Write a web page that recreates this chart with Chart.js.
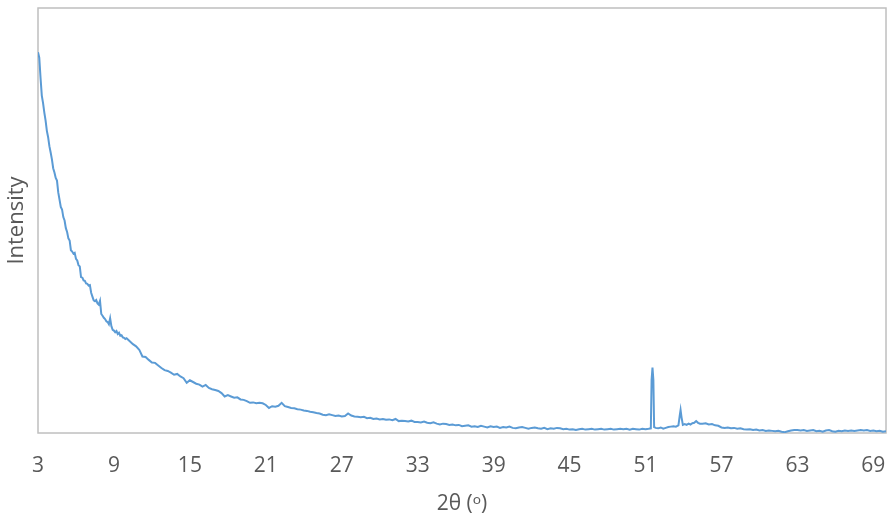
<!DOCTYPE html>
<html>
<head>
<meta charset="utf-8">
<script src="https://cdn.jsdelivr.net/npm/chart.js@4/dist/chart.umd.min.js"></script>
<style>
html,body{margin:0;padding:0;background:#fff;}
#wrap{width:888px;height:520px;position:relative;}
</style>
</head>
<body>
<div id="wrap"><canvas id="c" width="888" height="520"></canvas></div>
<script>
// 2θ angles (degrees)
const angles = [
3.0,3.1,3.2,3.3,3.4,3.5,3.6,3.7,3.8,3.9,
4.0,4.1,4.2,4.3,4.4,4.5,4.6,4.7,4.8,4.9,
5.0,5.1,5.2,5.3,5.4,5.5,5.6,5.7,5.8,5.9,
6.0,6.1,6.2,6.3,6.4,6.5,6.6,6.7,6.8,6.9,
7.0,7.1,7.2,7.3,7.4,7.5,7.6,7.7,7.8,7.9,
8.0,8.1,8.2,8.3,8.4,8.5,8.6,8.7,8.8,8.9,
9.0,9.1,9.2,9.3,9.4,9.5,9.6,9.7,9.8,9.9,
10.0,10.25,10.5,10.75,11.0,11.25,11.5,11.75,12.0,12.25,
12.5,12.75,13.0,13.25,13.5,13.75,14.0,14.25,14.5,14.75,
15.0,15.25,15.5,15.75,16.0,16.25,16.5,16.75,17.0,17.25,
17.5,17.75,18.0,18.25,18.5,18.75,19.0,19.25,19.5,19.75,
20.0,20.25,20.5,20.75,21.0,21.25,21.5,21.75,22.0,22.25,
22.5,22.75,23.0,23.25,23.5,23.75,24.0,24.25,24.5,24.75,
25.0,25.25,25.5,25.75,26.0,26.25,26.5,26.75,27.0,27.25,
27.5,27.75,28.0,28.25,28.5,28.75,29.0,29.25,29.5,29.75,
30.0,30.25,30.5,30.75,31.0,31.25,31.5,31.75,32.0,32.25,
32.5,32.75,33.0,33.25,33.5,33.75,34.0,34.25,34.5,34.75,
35.0,35.25,35.5,35.75,36.0,36.25,36.5,36.75,37.0,37.25,
37.5,37.75,38.0,38.25,38.5,38.75,39.0,39.25,39.5,39.75,
40.0,40.25,40.5,40.75,41.0,41.25,41.5,41.75,42.0,42.25,
42.5,42.75,43.0,43.25,43.5,43.75,44.0,44.25,44.5,44.75,
45.0,45.25,45.5,45.75,46.0,46.25,46.5,46.75,47.0,47.25,
47.5,47.75,48.0,48.25,48.5,48.75,49.0,49.25,49.5,49.75,
50.0,50.25,50.5,50.75,51.0,51.25,51.42,51.48,51.55,51.62,
51.68,51.8,52.0,52.2,52.4,52.6,52.8,53.0,53.2,53.4,
53.6,53.7,53.77,53.84,53.95,54.1,54.25,54.4,54.55,54.7,
54.85,55.0,55.15,55.3,55.5,55.75,56.0,56.25,56.5,56.75,
57.0,57.25,57.5,57.75,58.0,58.25,58.5,58.75,59.0,59.25,
59.5,59.75,60.0,60.25,60.5,60.75,61.0,61.25,61.5,61.75,
62.0,62.25,62.5,62.75,63.0,63.25,63.5,63.75,64.0,64.25,
64.5,64.75,65.0,65.25,65.5,65.75,66.0,66.25,66.5,66.75,
67.0,67.25,67.5,67.75,68.0,68.25,68.5,68.75,69.0,69.25,
69.5,69.75,70.0
];
// Intensity (arbitrary units)
const intensity = [
89.6,88.3,83.6,79.4,77.6,75.4,73.5,71.1,69.6,67.5,
66.0,64.4,62.3,61.3,60.0,59.4,56.6,54.9,53.2,52.6,
50.8,50.0,48.2,47.3,45.8,45.3,43.0,42.7,42.2,42.4,
41.0,40.6,39.5,39.2,36.7,36.6,35.9,35.8,35.2,35.1,
34.7,34.8,33.0,32.1,31.2,31.0,31.3,30.5,30.2,31.1,
28.0,27.6,27.1,26.8,26.3,26.1,25.6,27.0,25.1,24.3,
24.1,23.7,24.0,23.3,23.6,22.9,23.0,22.5,22.4,22.1,
22.3,21.6,20.9,20.4,19.6,18.0,17.9,17.2,16.6,16.5,
15.9,15.3,14.8,14.6,14.2,13.7,13.9,13.3,12.9,11.8,
12.4,12.0,11.6,11.4,10.9,11.3,10.6,10.3,10.1,9.9,
9.4,8.6,8.9,8.6,8.3,8.4,7.9,7.8,7.5,7.1,
7.2,7.0,7.1,7.0,6.6,5.9,6.3,6.2,6.4,7.1,
6.3,6.1,5.9,5.8,5.6,5.5,5.3,5.2,5.0,4.9,
4.7,4.6,4.3,4.2,4.4,4.2,4.0,4.1,3.9,4.0,
4.6,4.1,3.9,3.8,3.7,3.8,3.5,3.6,3.3,3.4,
3.2,3.3,3.1,3.2,3.0,3.3,2.8,2.9,2.8,2.7,
2.9,2.6,2.6,2.5,2.7,2.4,2.3,2.5,2.2,2.0,
2.2,2.1,1.9,2.0,1.8,1.9,1.6,1.7,1.8,1.5,
1.6,1.4,1.7,1.5,1.3,1.6,1.4,1.5,1.2,1.4,
1.3,1.5,1.2,1.1,1.3,1.4,1.2,1.0,1.2,1.3,
1.1,1.0,1.2,0.9,1.1,1.0,1.2,1.1,0.9,1.0,
0.8,0.9,0.7,0.9,1.0,0.8,0.9,1.0,0.8,0.9,
1.0,0.8,0.9,1.0,0.8,0.9,1.0,0.9,1.0,0.8,
1.0,0.9,0.8,1.0,0.9,1.0,1.1,12.5,15.4,12.5,
1.4,1.2,1.1,1.3,1.0,1.2,1.4,1.5,1.6,1.5,
1.8,4.0,5.4,3.8,1.9,2.1,1.9,2.2,2.0,2.3,
2.4,2.8,2.4,2.2,2.2,2.3,2.0,2.1,1.8,1.7,
1.3,1.2,1.3,1.1,1.2,1.0,1.1,0.9,0.8,0.9,
0.7,0.8,0.6,0.7,0.5,0.6,0.5,0.4,0.5,0.3,
0.2,0.4,0.6,0.7,0.7,0.6,0.7,0.5,0.6,0.7,
0.4,0.5,0.3,0.6,0.7,0.4,0.3,0.5,0.4,0.6,
0.5,0.6,0.5,0.6,0.7,0.6,0.7,0.5,0.6,0.4,
0.5,0.3,0.4
];
// x-axis tick labels
const xTickValues = [3, 9, 15, 21, 27, 33, 39, 45, 51, 57, 63, 69];
const xTitle = '2θ (ᵒ)';
const yTitle = 'Intensity';

const points = angles.map((a, i) => ({x: a, y: intensity[i]}));

const frame = {
  id: 'frame',
  beforeDatasetsDraw(chart) {
    const {ctx, chartArea: a} = chart;
    ctx.save();
    ctx.strokeStyle = '#BFBFBF';
    ctx.lineWidth = 1.5;
    ctx.strokeRect(a.left, a.top, a.right - a.left, a.bottom - a.top);
    ctx.restore();
  }
};

const FONT = "'Open Sans', 'Noto Sans', sans-serif";

new Chart(document.getElementById('c'), {
  type: 'line',
  data: {
    datasets: [{
      data: points,
      borderColor: '#5B9BD5',
      borderWidth: 2,
      pointRadius: 0,
      tension: 0,
      fill: false
    }]
  },
  options: {
    responsive: false,
    animation: false,
    devicePixelRatio: 1,
    layout: {padding: {top: 8, right: 2, left: 0, bottom: 0}},
    plugins: {legend: {display: false}, tooltip: {enabled: false}},
    scales: {
      x: {
        type: 'linear',
        min: 3, max: 70,
        afterBuildTicks: s => { s.ticks = xTickValues.map(v => ({value: v})); },
        afterFit: s => { s.height = 87; s.paddingLeft = 0; s.paddingRight = 0; },
        grid: {display: false, drawTicks: false},
        border: {display: false},
        ticks: {color: '#595959', font: {family: FONT, size: 21}, padding: 20, autoSkip: false, maxRotation: 0},
        title: {display: true, text: xTitle, color: '#595959', font: {family: FONT, size: 21}, padding: {top: 0, bottom: 3}}
      },
      y: {
        min: 0, max: 100,
        afterFit: s => { s.width = 38; },
        grid: {display: false, drawTicks: false},
        border: {display: false},
        ticks: {display: false},
        title: {display: true, text: yTitle, color: '#595959', font: {family: FONT, size: 22}, padding: {top: 4, bottom: 4}}
      }
    }
  },
  plugins: [frame]
});
</script>
</body>
</html>
